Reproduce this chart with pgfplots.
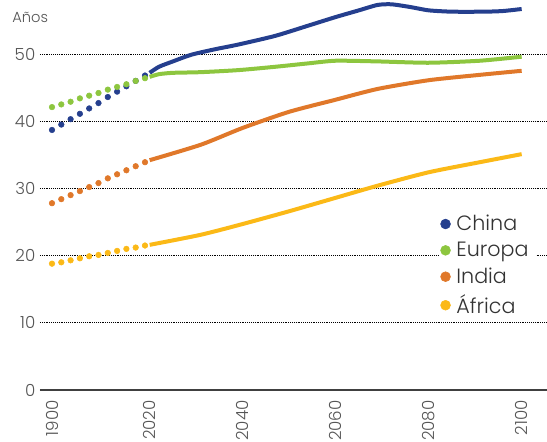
\documentclass[border=0pt]{standalone}
\usepackage{pgfplots}
\pgfplotsset{compat=1.18}
\usepackage{fontspec}
\setmainfont{Poppins}[UprightFont={* Light}]
\definecolor{china}{HTML}{253F8E}
\definecolor{europa}{HTML}{8DC63F}
\definecolor{india}{HTML}{E0782A}
\definecolor{africa}{HTML}{FBB917}
\definecolor{txt}{HTML}{555555}
\begin{document}
\begin{tikzpicture}
\begin{axis}[
  at={(0,0)}, anchor=south west,
  scale only axis, width=380.25pt, height=292.5pt,
  xmin=-2.58, xmax=106.45, ymin=0, ymax=58.04,
  axis line style={draw=none},
  clip=false,
  xtick={0,21,41,61,81,101},
  xticklabels={},
  ytick={0,10,...,50},
  major tick length=0pt,
  ymajorgrids,
  grid style={densely dotted, black, line width=0.6pt},
  extra y ticks={0}, extra y tick labels={},
  extra y tick style={grid style={solid, black!75, line width=1pt}},
  tick label style={font=\fontsize{12.5}{14}\selectfont, text=txt},
  /pgf/number format/assume math mode=true,
  legend style={at={(rel axis cs:0.787,0.459)}, anchor=north west,
    draw=none, fill=white, inner sep=1pt, row sep=3pt,
    nodes={inner xsep=4.5pt},
    font=\fontsize{15.5}{19}\selectfont, text=black!80,
    legend cell align=left},
]
% series legend (round markers)
\addlegendimage{only marks, mark=*, mark size=3.7pt, china}
\addlegendentry{China}
\addlegendimage{only marks, mark=*, mark size=3.7pt, europa}
\addlegendentry{Europa}
\addlegendimage{only marks, mark=*, mark size=3.7pt, india}
\addlegendentry{India}
\addlegendimage{only marks, mark=*, mark size=3.7pt, africa}
\addlegendentry{África}
%
% historical part (dots)
\addplot[only marks, mark=*, mark size=2.1pt, china, forget plot] coordinates {
  (0,38.7) (2,39.5) (4,40.3) (6,41.1) (8,41.9) (10,42.7)
  (12,43.6) (14,44.4) (16,45.2) (18,46.0) (20,46.8)
};
\addplot[only marks, mark=*, mark size=2.1pt, europa, forget plot] coordinates {
  (0,42.1) (2,42.5) (4,42.9) (6,43.4) (8,43.8) (10,44.2)
  (12,44.7) (14,45.1) (16,45.5) (18,46.0) (20,46.4)
};
\addplot[only marks, mark=*, mark size=2.1pt, india, forget plot] coordinates {
  (0,27.8) (2,28.4) (4,29.0) (6,29.6) (8,30.2) (10,30.8)
  (12,31.5) (14,32.1) (16,32.7) (18,33.3) (20,33.9)
};
\addplot[only marks, mark=*, mark size=2.1pt, africa, forget plot] coordinates {
  (0,18.8) (2,19.0) (4,19.3) (6,19.6) (8,19.9) (10,20.1)
  (12,20.4) (14,20.7) (16,21.0) (18,21.2) (20,21.5)
};
%
% projections (solid)
\addplot[china, line width=3pt, smooth, tension=0.4, forget plot] coordinates {
  (21,47.2) (23,48.1) (26,48.9) (30,49.9) (35,50.7) (40,51.4)
  (48,52.7) (55,54.2) (61,55.5) (66,56.5) (70,57.3) (73,57.4)
  (77,57.0) (81,56.5) (86,56.3) (93,56.3) (97,56.4) (101,56.7)
};
\addplot[europa, line width=3pt, smooth, tension=0.4, forget plot] coordinates {
  (21,46.6) (23,47.0) (26,47.2) (32,47.3) (40,47.6) (48,48.1)
  (55,48.6) (61,49.0) (70,48.9) (81,48.7) (92,49.0) (101,49.6)
};
\addplot[india, line width=3pt, smooth, tension=0.4, forget plot] coordinates {
  (21,34.2) (32,36.5) (41,39.0) (51,41.4) (61,43.2) (70,44.8)
  (81,46.1) (92,46.9) (101,47.5)
};
\addplot[africa, line width=3pt, smooth, tension=0.4, forget plot] coordinates {
  (21,21.6) (32,23.1) (41,24.7) (51,26.6) (61,28.6) (70,30.4)
  (81,32.4) (92,33.9) (101,35.1)
};
% rotated year labels below the zero line
\begin{scope}[every node/.style={rotate=90, anchor=east, inner sep=0pt,
    text=txt, font=\fontsize{12.5}{14}\selectfont}]
\node at (axis cs:0,-1.5) {1900};
\node at (axis cs:21,-1.5) {2020};
\node at (axis cs:41,-1.5) {2040};
\node at (axis cs:61,-1.5) {2060};
\node at (axis cs:81,-1.5) {2080};
\node at (axis cs:101,-1.5) {2100};
\end{scope}
\node[anchor=west, text=txt, font=\fontsize{11}{13}\selectfont, inner sep=0pt]
  at (rel axis cs:-0.055,0.954) {Años};
\end{axis}
\pgfresetboundingbox
\path (-30pt,-39pt) rectangle (380.25pt,292.5pt);
\end{tikzpicture}
\end{document}
